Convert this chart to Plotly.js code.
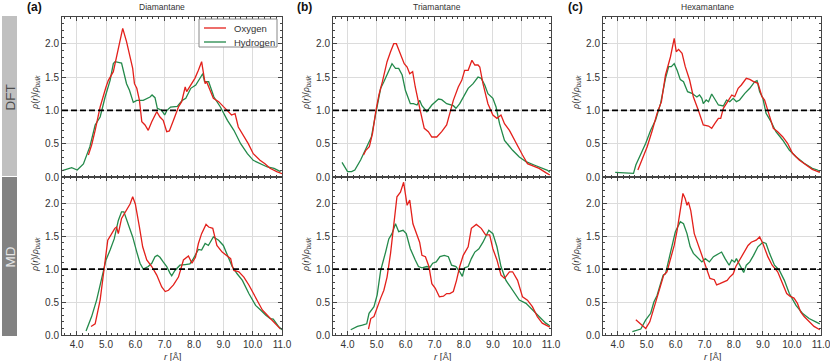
<!DOCTYPE html>
<html>
<head>
<meta charset="utf-8">
<script src="https://cdn.plot.ly/plotly-3.0.1.min.js"></script>
<style>
  html,body{margin:0;padding:0;background:#fff;}
  #chart{width:830px;height:361px;}
</style>
</head>
<body>
<div id="chart"></div>
<script>
// Density profiles rho(r)/rho_bulk
const molecules=['Diamantane','Triamantane','Hexamantane'];
const panelTags=['(a)','(b)','(c)'];
const methods=['DFT','MD'];
const seriesNames=['Oxygen','Hydrogen'];
const refLevel=1.0;

// DFT - Diamantane
const dftDiaHydR=[3.51,3.83,4.02,4.23,4.45,4.63,4.8,4.97,5.14,5.25,5.31,5.53,5.7,5.8,5.93,6.05,6.27,6.5,6.57,6.67,6.75,6.9,7.0,7.08,7.2,7.43,7.6,7.72,7.89,8.06,8.23,8.3,8.36,8.5,8.68,8.9,9.14,9.36,9.59,9.82,10.02,10.27,10.5,10.73,10.95];
const dftDiaHydV=[0.095,0.14,0.105,0.195,0.455,0.78,0.9,1.2,1.45,1.7,1.73,1.71,1.4,1.3,1.12,1.15,1.15,1.2,1.23,1.19,1.03,1.0,0.93,1.0,1.05,1.06,1.15,1.18,1.33,1.38,1.5,1.55,1.43,1.43,1.2,1.05,0.85,0.7,0.5,0.35,0.25,0.2,0.15,0.13,0.08];
const dftDiaOxyR=[4.4,4.51,4.63,4.8,5.0,5.08,5.25,5.42,5.57,5.7,5.84,5.91,5.97,6.05,6.14,6.22,6.33,6.44,6.56,6.73,6.84,6.95,7.07,7.16,7.3,7.47,7.58,7.7,7.75,7.86,8.03,8.15,8.26,8.38,8.43,8.52,8.66,8.84,9.0,9.17,9.28,9.4,9.51,9.68,9.85,10.02,10.25,10.42,10.59,10.82,11.0];
const dftDiaOxyV=[0.33,0.48,0.7,1.05,1.35,1.45,1.58,1.9,2.23,2.03,1.78,1.63,1.4,1.33,1.15,0.83,0.78,0.7,0.83,0.98,0.9,0.85,0.68,0.69,0.85,1.05,1.13,1.35,1.28,1.36,1.48,1.6,1.73,1.4,1.43,1.33,1.18,1.13,1.05,0.98,0.93,0.95,0.75,0.63,0.5,0.35,0.25,0.2,0.13,0.08,0.05];

// MD - Diamantane
const mdDiaHydR=[4.32,4.51,4.68,4.85,5.0,5.14,5.28,5.42,5.53,5.61,5.76,5.91,6.05,6.16,6.27,6.44,6.56,6.67,6.75,6.84,6.95,7.07,7.18,7.24,7.35,7.52,7.7,7.86,7.98,8.15,8.26,8.38,8.49,8.66,8.84,9.0,9.14,9.3,9.47,9.65,9.87,10.1,10.27,10.45,10.6,10.7,10.88,11.0];
const mdDiaHydV=[0.06,0.28,0.53,0.83,1.14,1.29,1.46,1.74,1.87,1.87,1.69,1.49,1.26,1.09,1.0,1.04,1.09,1.19,1.21,1.18,1.11,1.04,0.94,0.9,0.98,1.06,1.07,1.08,1.16,1.3,1.29,1.39,1.36,1.49,1.44,1.36,1.21,1.04,0.93,0.83,0.63,0.45,0.38,0.3,0.25,0.24,0.13,0.08];
const mdDiaOxyR=[4.49,4.63,4.8,4.93,5.06,5.17,5.3,5.36,5.42,5.53,5.65,5.82,5.91,6.0,6.14,6.25,6.39,6.56,6.73,6.9,7.02,7.13,7.3,7.47,7.64,7.81,7.93,8.05,8.15,8.26,8.41,8.5,8.64,8.78,8.96,9.14,9.25,9.3,9.36,9.53,9.7,9.87,10.1,10.33,10.5,10.73,10.95];
const mdDiaOxyV=[0.13,0.17,0.53,0.98,1.44,1.52,1.62,1.64,1.54,1.77,1.87,1.99,2.1,1.99,1.64,1.34,1.14,1.04,0.91,0.73,0.66,0.68,0.76,0.88,1.14,1.2,1.09,1.18,1.39,1.54,1.68,1.64,1.62,1.36,1.26,1.2,1.16,1.06,0.98,0.96,0.88,0.76,0.56,0.38,0.3,0.2,0.09];

// DFT - Triamantane
const dftTriHydR=[3.81,3.89,4.0,4.14,4.25,4.45,4.68,4.82,4.97,5.14,5.25,5.42,5.53,5.65,5.76,5.88,5.99,6.16,6.27,6.39,6.48,6.56,6.73,6.9,7.13,7.24,7.41,7.64,7.73,7.86,7.98,8.15,8.32,8.49,8.6,8.72,8.83,9.0,9.11,9.23,9.4,9.68,9.91,10.14,10.42,10.7,10.88,10.96];
const dftTriHydV=[0.22,0.155,0.08,0.08,0.105,0.255,0.455,0.6,0.95,1.33,1.43,1.58,1.7,1.63,1.63,1.53,1.3,1.1,1.1,1.08,1.15,1.07,0.98,1.08,1.17,1.16,1.1,1.07,1.03,1.1,1.2,1.33,1.4,1.5,1.48,1.38,1.25,1.18,1.05,0.8,0.55,0.4,0.3,0.23,0.18,0.13,0.1,0.07];
const dftTriOxyR=[4.55,4.63,4.75,4.86,4.97,5.08,5.2,5.36,5.48,5.59,5.68,5.82,5.95,6.05,6.14,6.24,6.33,6.5,6.64,6.78,6.9,7.07,7.24,7.41,7.52,7.64,7.81,7.93,8.03,8.15,8.28,8.38,8.49,8.55,8.66,8.83,9.0,9.14,9.28,9.4,9.57,9.8,10.02,10.19,10.42,10.59,10.82,10.96];
const dftTriOxyV=[0.33,0.4,0.455,0.655,0.98,1.23,1.43,1.73,1.88,2.0,2.0,1.85,1.7,1.65,1.55,1.58,1.35,1.0,0.73,0.68,0.6,0.6,0.68,0.78,0.95,1.15,1.35,1.45,1.6,1.6,1.75,1.68,1.68,1.65,1.4,1.1,0.93,0.88,0.93,0.8,0.7,0.5,0.33,0.2,0.155,0.13,0.065,0.03];

// MD - Triamantane
const mdTriHydR=[4.11,4.34,4.51,4.66,4.74,4.91,5.02,5.14,5.31,5.42,5.53,5.65,5.76,5.91,6.02,6.16,6.33,6.44,6.56,6.73,6.84,6.93,7.05,7.18,7.33,7.47,7.58,7.73,7.86,7.95,8.03,8.15,8.26,8.38,8.52,8.66,8.86,9.0,9.14,9.28,9.45,9.68,9.91,10.14,10.36,10.59,10.82,10.96];
const mdTriHydV=[0.08,0.13,0.15,0.17,0.33,0.43,0.61,0.98,1.26,1.46,1.54,1.69,1.57,1.59,1.54,1.31,1.14,1.04,1.02,1.04,1.03,1.09,1.11,1.19,1.21,1.19,1.06,1.04,0.96,0.89,1.02,1.04,1.16,1.26,1.31,1.41,1.59,1.54,1.34,1.04,0.83,0.68,0.53,0.48,0.38,0.28,0.18,0.14];
const mdTriOxyR=[4.72,4.8,4.91,5.02,5.14,5.25,5.36,5.48,5.59,5.7,5.82,5.93,6.05,6.14,6.25,6.36,6.48,6.56,6.68,6.8,6.9,7.02,7.16,7.3,7.41,7.52,7.64,7.75,7.86,7.98,8.15,8.26,8.43,8.6,8.75,8.89,9.0,9.14,9.28,9.4,9.57,9.68,9.85,10.02,10.19,10.36,10.53,10.7,10.88,10.96];
const mdTriOxyV=[0.09,0.25,0.28,0.43,0.56,0.68,0.88,1.24,1.69,2.1,2.17,2.32,1.97,2.05,1.69,1.54,1.41,1.21,1.19,1.04,0.78,0.71,0.58,0.59,0.63,0.63,0.66,0.83,1.04,1.21,1.34,1.62,1.68,1.62,1.52,1.52,1.31,1.14,0.91,0.86,0.96,0.96,0.83,0.58,0.53,0.43,0.28,0.18,0.13,0.12];

// DFT - Hexamantane
const dftHexHydR=[3.92,4.55,4.63,4.8,4.97,5.14,5.31,5.48,5.65,5.76,5.85,5.95,6.05,6.16,6.27,6.41,6.56,6.73,6.82,6.9,6.95,7.05,7.13,7.24,7.35,7.47,7.64,7.75,7.86,7.98,8.09,8.2,8.38,8.55,8.72,8.8,8.89,9.0,9.11,9.28,9.45,9.68,9.91,10.14,10.42,10.7,10.88,10.96];
const dftHexHydV=[0.07,0.055,0.18,0.33,0.505,0.7,0.855,1.1,1.48,1.655,1.655,1.7,1.6,1.46,1.43,1.28,1.255,1.2,1.23,1.18,1.1,1.155,1.13,1.245,1.155,1.08,1.065,1.155,1.13,1.18,1.13,1.155,1.255,1.33,1.43,1.445,1.28,1.18,0.955,0.83,0.68,0.555,0.405,0.305,0.205,0.13,0.105,0.08];
const dftHexOxyR=[4.7,4.85,5.02,5.2,5.36,5.51,5.65,5.82,5.95,6.02,6.1,6.22,6.33,6.48,6.61,6.78,6.95,7.13,7.24,7.35,7.47,7.55,7.64,7.75,7.93,8.03,8.15,8.26,8.43,8.55,8.68,8.83,8.97,9.06,9.23,9.36,9.51,9.68,9.85,10.02,10.25,10.48,10.7,10.96];
const dftHexOxyV=[0.105,0.28,0.455,0.705,0.955,1.13,1.53,1.8,2.08,1.88,1.915,1.855,1.655,1.455,1.2,1.0,0.78,0.765,0.73,0.805,0.88,0.88,1.03,1.105,1.23,1.205,1.33,1.38,1.48,1.465,1.43,1.405,1.205,1.155,0.905,0.73,0.68,0.605,0.505,0.355,0.255,0.18,0.115,0.07];

// MD - Hexamantane
const mdHexHydR=[4.51,4.8,4.97,5.14,5.25,5.36,5.48,5.57,5.65,5.76,5.88,5.99,6.16,6.27,6.39,6.5,6.61,6.78,6.9,7.02,7.16,7.3,7.47,7.58,7.7,7.84,7.93,8.03,8.09,8.2,8.34,8.43,8.55,8.68,8.83,9.0,9.11,9.23,9.4,9.57,9.74,9.91,10.14,10.36,10.59,10.82,10.96];
const mdHexHydV=[0.05,0.09,0.23,0.33,0.5,0.6,0.78,0.91,0.93,1.14,1.34,1.57,1.72,1.69,1.54,1.34,1.24,1.16,1.11,1.16,1.11,1.19,1.24,1.26,1.16,1.06,1.14,1.11,1.16,1.06,0.95,1.06,1.11,1.21,1.34,1.41,1.39,1.24,1.06,0.98,0.83,0.63,0.45,0.33,0.25,0.2,0.17];
const mdHexOxyR=[4.63,4.77,4.97,5.11,5.25,5.36,5.5,5.59,5.7,5.82,5.95,6.05,6.16,6.25,6.33,6.39,6.44,6.52,6.64,6.78,6.93,7.07,7.18,7.33,7.41,7.52,7.66,7.77,7.86,7.98,8.07,8.2,8.32,8.49,8.6,8.77,8.89,9.0,9.17,9.32,9.51,9.68,9.82,9.93,10.07,10.19,10.3,10.42,10.59,10.76,10.96];
const mdHexOxyV=[0.23,0.17,0.1,0.2,0.4,0.56,0.76,0.91,0.96,1.16,1.36,1.59,1.89,2.15,2.07,1.97,2.02,1.89,1.54,1.36,1.19,0.98,0.86,0.84,0.76,0.78,0.81,0.83,0.88,0.93,1.04,1.14,1.21,1.36,1.41,1.44,1.49,1.39,1.19,1.06,0.96,0.78,0.63,0.59,0.56,0.48,0.35,0.28,0.2,0.13,0.08];

const xTicks=[4,5,6,7,8,9,10,11];
const yTicks=[0,0.5,1.0,1.5,2.0];

// panel order: top row DFT a,b,c then bottom row MD a,b,c
const panelData=[
  [dftDiaOxyR,dftDiaOxyV,dftDiaHydR,dftDiaHydV],
  [dftTriOxyR,dftTriOxyV,dftTriHydR,dftTriHydV],
  [dftHexOxyR,dftHexOxyV,dftHexHydR,dftHexHydV],
  [mdDiaOxyR,mdDiaOxyV,mdDiaHydR,mdDiaHydV],
  [mdTriOxyR,mdTriOxyV,mdTriHydR,mdTriHydV],
  [mdHexOxyR,mdHexOxyV,mdHexHydR,mdHexHydV]
];

const W=830,H=361;
const px=v=>v/W, py=v=>1-v/H;
const colX=[[62,282],[333,551],[603,821]];
const rowY=[[17,177],[177,335]];
const RED='#e3201b', GREEN='#23894a';
const FONT='Liberation Sans, Arial, sans-serif';

const traces=[];
panelData.forEach((d,i)=>{
  const k=i+1;
  traces.push({x:d[2],y:d[3],type:'scatter',mode:'lines',name:seriesNames[1],
    line:{color:GREEN,width:1.3},xaxis:'x'+k,yaxis:'y'+k,showlegend:false});
  traces.push({x:d[0],y:d[1],type:'scatter',mode:'lines',name:seriesNames[0],
    line:{color:RED,width:1.3},xaxis:'x'+k,yaxis:'y'+k,showlegend:false});
});

const layout={
  width:W,height:H,margin:{l:0,r:0,t:0,b:0},
  paper_bgcolor:'#fff',plot_bgcolor:'#fff',
  font:{family:FONT,size:10,color:'#333'},
  showlegend:false,
  shapes:[],annotations:[]
};

function note(x,y,text,font,extra){
  layout.annotations.push(Object.assign({xref:'paper',yref:'paper',x:px(x),y:py(y),text:text,showarrow:false,
    xanchor:'center',yanchor:'middle',font:Object.assign({family:FONT,color:'#333'},font)},extra||{}));
}

for(let i=0;i<6;i++){
  const k=i+1, col=i%3, row=Math.floor(i/3);
  const common={showline:true,linecolor:'#444',linewidth:1,mirror:'allticks',ticks:'inside',tickcolor:'#444',
    ticklen:4,gridcolor:'#dcdcdc',gridwidth:1,zeroline:false,tickfont:{size:10,color:'#333'},tickformat:'.1f',
    fixedrange:true,ticklabeloverflow:'allow'};
  layout['xaxis'+(k===1?'':k)]=Object.assign({},common,{
    domain:[px(colX[col][0]),px(colX[col][1])],range:[3.5,11.0001],anchor:'y'+k,
    tickmode:'array',tickvals:xTicks,showticklabels:row===1,
    minor:{dtick:0.2,tick0:0,ticks:'inside',ticklen:2,tickcolor:'#444',showgrid:false}
  });
  layout['yaxis'+(k===1?'':k)]=Object.assign({},common,{
    domain:[py(rowY[row][1]),py(rowY[row][0])],range:[0,2.4],anchor:'x'+k,
    tickmode:'array',tickvals:yTicks,
    minor:{dtick:0.1,tick0:0,ticks:'inside',ticklen:2,tickcolor:'#444',showgrid:false}
  });
  layout.shapes.push({type:'line',xref:'x'+k+' domain',x0:0,x1:1,yref:'y'+k,y0:refLevel,y1:refLevel,
    line:{color:'#000',width:1.6,dash:'6px,3px'}});
  // y axis title
  note(colX[col][0]-27,row===0?93:255,'<i>ρ</i>(<i>r</i>)/<i>ρ</i><sub><i>bulk</i></sub>',{size:9},{textangle:-90});
  if(row===1) note((colX[col][0]+colX[col][1])/2,356,'<i>r</i> [Å]',{size:9.5});
}

// column headers
const titleX=[162,437,707], tagX=[34,304,575];
molecules.forEach((m,c)=>{
  note(titleX[c],7,m,{size:8.5});
  note(tagX[c],7,'<b>'+panelTags[c]+'</b>',{size:12,color:'#111'});
});

// method side bands
const bandFill=['#c0c0c0','#828282'], bandText=['#4d4d4d','#e6e6e6'];
methods.forEach((m,r)=>{
  const y0=r===0?16:177, y1=r===0?176:336;
  layout.shapes.push({type:'rect',xref:'paper',yref:'paper',x0:px(2),x1:px(17),y0:py(y1),y1:py(y0),
    fillcolor:bandFill[r],line:{width:0},layer:'below'});
  note(9.5,r===0?98:257,m,{size:13.5,color:bandText[r]},{textangle:-90});
});

// legend box (panel a, top right)
const legColors=[RED,GREEN], legY=[28,42];
layout.shapes.push({type:'rect',xref:'paper',yref:'paper',x0:px(199),x1:px(277),y0:py(47),y1:py(19),
  fillcolor:'#fff',line:{color:'#888',width:1},layer:'above'});
seriesNames.forEach((s,j)=>{
  layout.shapes.push({type:'line',xref:'paper',yref:'paper',x0:px(204),x1:px(226),y0:py(legY[j]),y1:py(legY[j]),
    line:{color:legColors[j],width:1.3},layer:'above'});
  note(232,legY[j],s,{size:9.5},{xanchor:'left'});
});

Plotly.newPlot('chart',traces,layout,{displayModeBar:false,staticPlot:true});
</script>
</body>
</html>
